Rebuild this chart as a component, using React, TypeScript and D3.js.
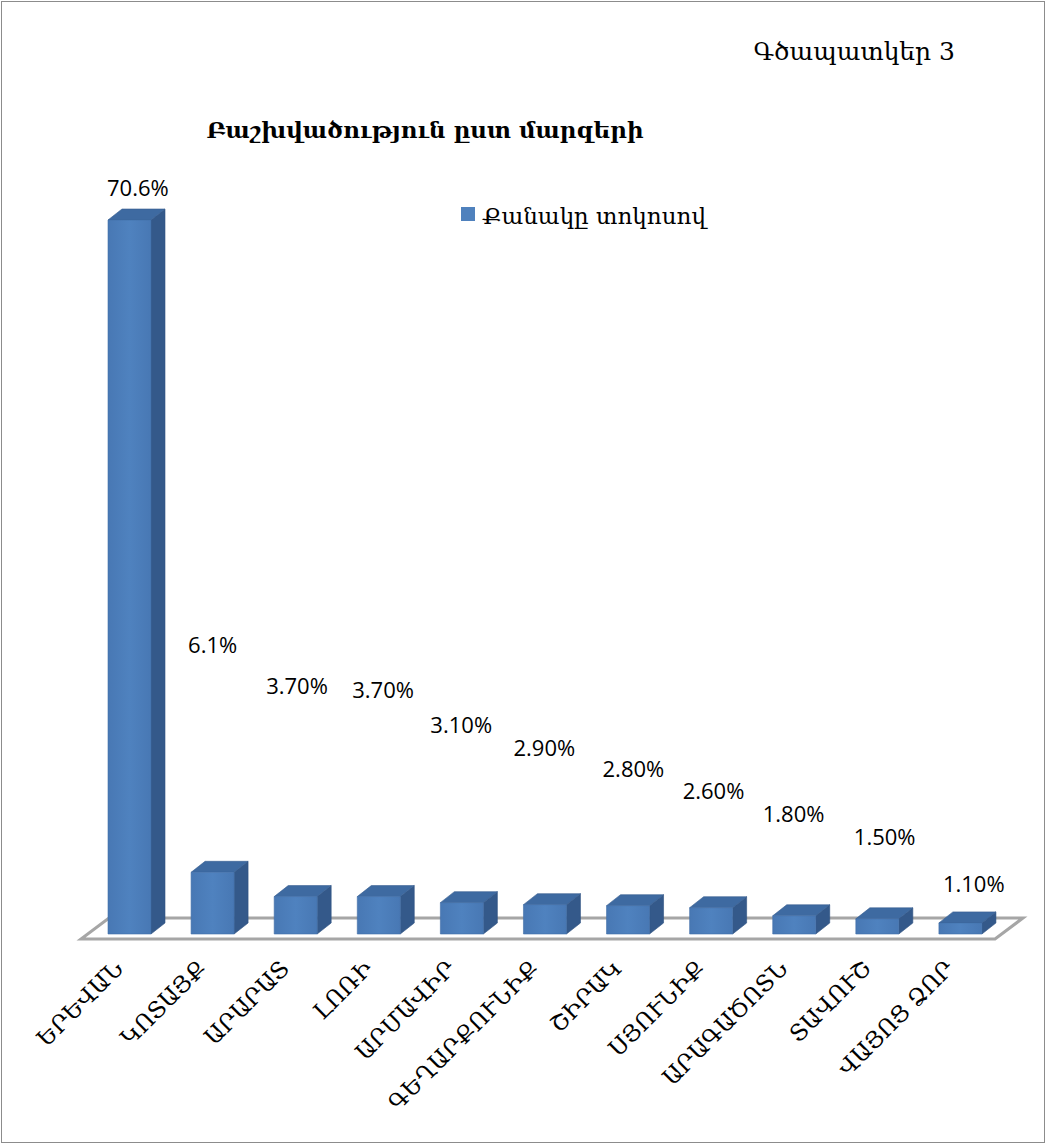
import React from "react";
import * as d3 from "d3";

// ---- data ----
const categories = [
  "ԵՐԵՎԱՆ",
  "ԿՈՏԱՅՔ",
  "ԱՐԱՐԱՏ",
  "ԼՈՌԻ",
  "ԱՐՄԱՎԻՐ",
  "ԳԵՂԱՐՔՈՒՆԻՔ",
  "ՇԻՐԱԿ",
  "ՍՅՈՒՆԻՔ",
  "ԱՐԱԳԱԾՈՏՆ",
  "ՏԱՎՈՒՇ",
  "ՎԱՅՈՑ ՁՈՐ",
];
const values = [70.6, 6.1, 3.7, 3.7, 3.1, 2.9, 2.8, 2.6, 1.8, 1.5, 1.1];
const valueLabels = ["70.6%", "6.1%", "3.70%", "3.70%", "3.10%", "2.90%", "2.80%", "2.60%", "1.80%", "1.50%", "1.10%"];
const seriesName = "Քանակը տոկոսով";
const chartTitle = "Բաշխվածություն ըստ մարզերի";
const figureLabel = "Գծապատկեր 3";

// ---- layout (manual label placement, like the source chart) ----
const LABEL_LIFT = [24, 219, 203, 199, 170, 149, 129, 109, 94, 74, 31];
const LABEL_DX = [-1, -3, -8, -5, -10, -10, -4, -7, -10, -2, 4];

const W = 1046;
const H = 1144;
const BAR_W = 43;
const DX = 14;
const DY = 11;
const FLOOR_DX = 28;
const FLOOR_DY = 21;

export default function App() {
  const x = d3.scaleBand<string>().domain(categories).range([81, 995]).padding(0);
  const y = d3.scaleLinear().domain([0, 70.6]).range([934, 220]);
  const y0 = y(0);
  const floorFront = y0 + 5;
  const floorBack = floorFront - FLOOR_DY;
  const [fx0, fx1] = x.range();

  const serif = "'DejaVu Serif', serif";
  const sans = "'Open Sans', 'Noto Sans', sans-serif";

  return (
    <svg width={W} height={H} style={{ position: "absolute", left: 0, top: 0, background: "#fff" }}>
      <defs>
        <linearGradient id="front" x1="0" x2="1" y1="0" y2="0">
          <stop offset="0" stopColor="#4878B4" />
          <stop offset="0.5" stopColor="#4F82BF" />
          <stop offset="1" stopColor="#4878B4" />
        </linearGradient>
      </defs>
      <rect x={1.5} y={1.5} width={W - 3} height={H - 3} fill="#fff" stroke="#8C8C8C" strokeWidth={1} />

      <text x={955} y={60} textAnchor="end" fontFamily={serif} fontSize={25} fill="#000">
        {figureLabel}
      </text>
      <text x={425} y={138} textAnchor="middle" fontFamily={serif} fontSize={23} fontWeight="bold" fill="#000">
        {chartTitle}
      </text>

      {/* legend */}
      <rect x={461} y={207} width={14} height={14} fill="#4F81BD" />
      <text x={482} y={224} fontFamily={serif} fontSize={23} fill="#000">
        {seriesName}
      </text>

      {/* floor */}
      <polygon
        points={`${fx0},${floorFront} ${fx1},${floorFront} ${fx1 + FLOOR_DX},${floorBack} ${fx0 + FLOOR_DX},${floorBack}`}
        fill="#fff"
        stroke="#A6A6A6"
        strokeWidth={3}
        strokeLinejoin="miter"
      />

      {/* bars */}
      {categories.map((c, i) => {
        const bx = (x(c) as number) + 27;
        const t = y(values[i]);
        const front = `${bx},${t} ${bx + BAR_W},${t} ${bx + BAR_W},${y0} ${bx},${y0}`;
        const side = `${bx + BAR_W},${t} ${bx + BAR_W + DX},${t - DY} ${bx + BAR_W + DX},${y0 - DY} ${bx + BAR_W},${y0}`;
        const top = `${bx},${t} ${bx + DX},${t - DY} ${bx + BAR_W + DX},${t - DY} ${bx + BAR_W},${t}`;
        return (
          <g key={c}>
            <polygon points={side} fill="#34598A" stroke="#2F5282" strokeWidth={0.6} />
            <polygon points={top} fill="#3E6AA1" stroke="#355C8E" strokeWidth={0.6} />
            <polygon points={front} fill="url(#front)" stroke="#416FA8" strokeWidth={0.6} />
          </g>
        );
      })}

      {/* value labels */}
      {categories.map((c, i) => {
        const bx = (x(c) as number) + 27;
        return (
          <text
            key={"v" + c}
            x={bx + LABEL_DX[i]}
            y={y(values[i]) - LABEL_LIFT[i]}
            fontFamily={sans}
            fontSize={22}
            fill="#000"
          >
            {valueLabels[i]}
          </text>
        );
      })}

      {/* category labels */}
      {categories.map((c) => {
        const cx = (x(c) as number) + x.bandwidth() / 2 + 2;
        return (
          <text
            key={"c" + c}
            transform={`translate(${cx},${y0 + 36}) rotate(-45)`}
            textAnchor="end"
            fontFamily={serif}
            fontSize={23}
            fill="#000"
          >
            {c}
          </text>
        );
      })}
    </svg>
  );
}
